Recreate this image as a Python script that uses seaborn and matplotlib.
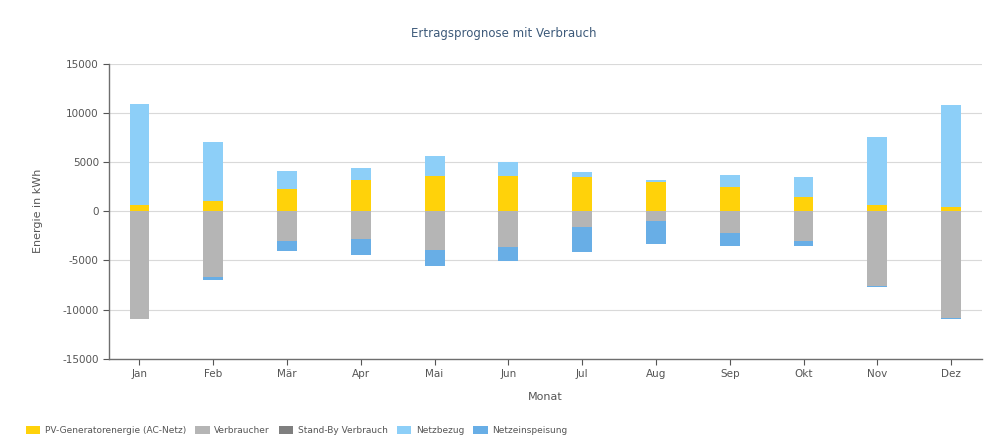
import matplotlib
matplotlib.use("Agg")
import matplotlib.pyplot as plt
import seaborn as sns
import numpy as np

# Monthly values in kWh
months = ["Jan", "Feb", "Mär", "Apr", "Mai", "Jun", "Jul", "Aug", "Sep", "Okt", "Nov", "Dez"]
pv_energy = [600, 1050, 2250, 3150, 3600, 3550, 3500, 2950, 2450, 1500, 600, 450]
grid_import = [10350, 5950, 1800, 1250, 2000, 1500, 500, 250, 1200, 2000, 7000, 10350]
consumer = [-10900, -6700, -3000, -2850, -3900, -3600, -1550, -950, -2250, -3000, -7600, -10800]
standby = [0, 0, 0, 0, 0, 0, 0, 0, 0, 0, 0, 0]
grid_feed = [-50, -300, -1000, -1550, -1650, -1500, -2550, -2400, -1300, -500, -100, -130]

labels = ["PV-Generatorenergie (AC-Netz)", "Verbraucher", "Stand-By Verbrauch", "Netzbezug", "Netzeinspeisung"]
colors = ["#FFD20A", "#B5B5B5", "#7F7F7F", "#8DCFF8", "#68AEE6"]

sns.set_theme(style="white")
plt.rcParams["font.family"] = ["DejaVu Sans"]
plt.rcParams["axes.unicode_minus"] = False

fig = plt.figure(figsize=(9.93, 4.43), dpi=100)
ax = fig.add_axes([0.11, 0.19, 0.879, 0.666])

x = np.arange(len(months))
w = 0.27
pv = np.array(pv_energy)
imp = np.array(grid_import)
con = np.array(consumer)
sb = np.array(standby)
feed = np.array(grid_feed)

bar_kw = dict(width=w, linewidth=0, zorder=3)
ax.bar(x, pv, color=colors[0], label=labels[0], **bar_kw)
ax.bar(x, con, color=colors[1], label=labels[1], **bar_kw)
ax.bar(x, sb, bottom=con, color=colors[2], label=labels[2], **bar_kw)
ax.bar(x, imp, bottom=pv, color=colors[3], label=labels[3], **bar_kw)
ax.bar(x, feed, bottom=con + sb, color=colors[4], label=labels[4], **bar_kw)

ax.set_xlim(-0.41, 11.42)
ax.set_ylim(-15000, 15000)
ax.set_yticks(np.arange(-15000, 15001, 5000))
ax.set_xticks(x)
ax.set_xticklabels(months)
ax.yaxis.grid(True, color="#D9D9D9", linewidth=0.8, zorder=0)
ax.xaxis.grid(False)

for side in ["top", "right"]:
    ax.spines[side].set_visible(False)
for side in ["left", "bottom"]:
    ax.spines[side].set_color("#6E6E6E")
    ax.spines[side].set_linewidth(1.0)

ax.tick_params(axis="both", which="major", labelsize=7.5, colors="#555555",
               direction="out", length=4, width=0.8, bottom=True, left=True)
ax.tick_params(axis="x", pad=3)

ax.set_xlabel("Monat", fontsize=8, color="#555555", labelpad=10)
ax.set_ylabel("Energie in kWh", fontsize=8, color="#555555", labelpad=14)
fig.text(0.507, 0.925, "Ertragsprognose mit Verbrauch", ha="center", va="center",
         fontsize=8.5, color="#3D5A7A")

fig.legend(loc="lower left", bbox_to_anchor=(0.018, 0.0), ncol=5, frameon=False,
           fontsize=6.5, handlelength=1.6, handleheight=0.9, columnspacing=1.0,
           handletextpad=0.5, labelcolor="#555555")

fig.savefig("out.png", dpi=100)
